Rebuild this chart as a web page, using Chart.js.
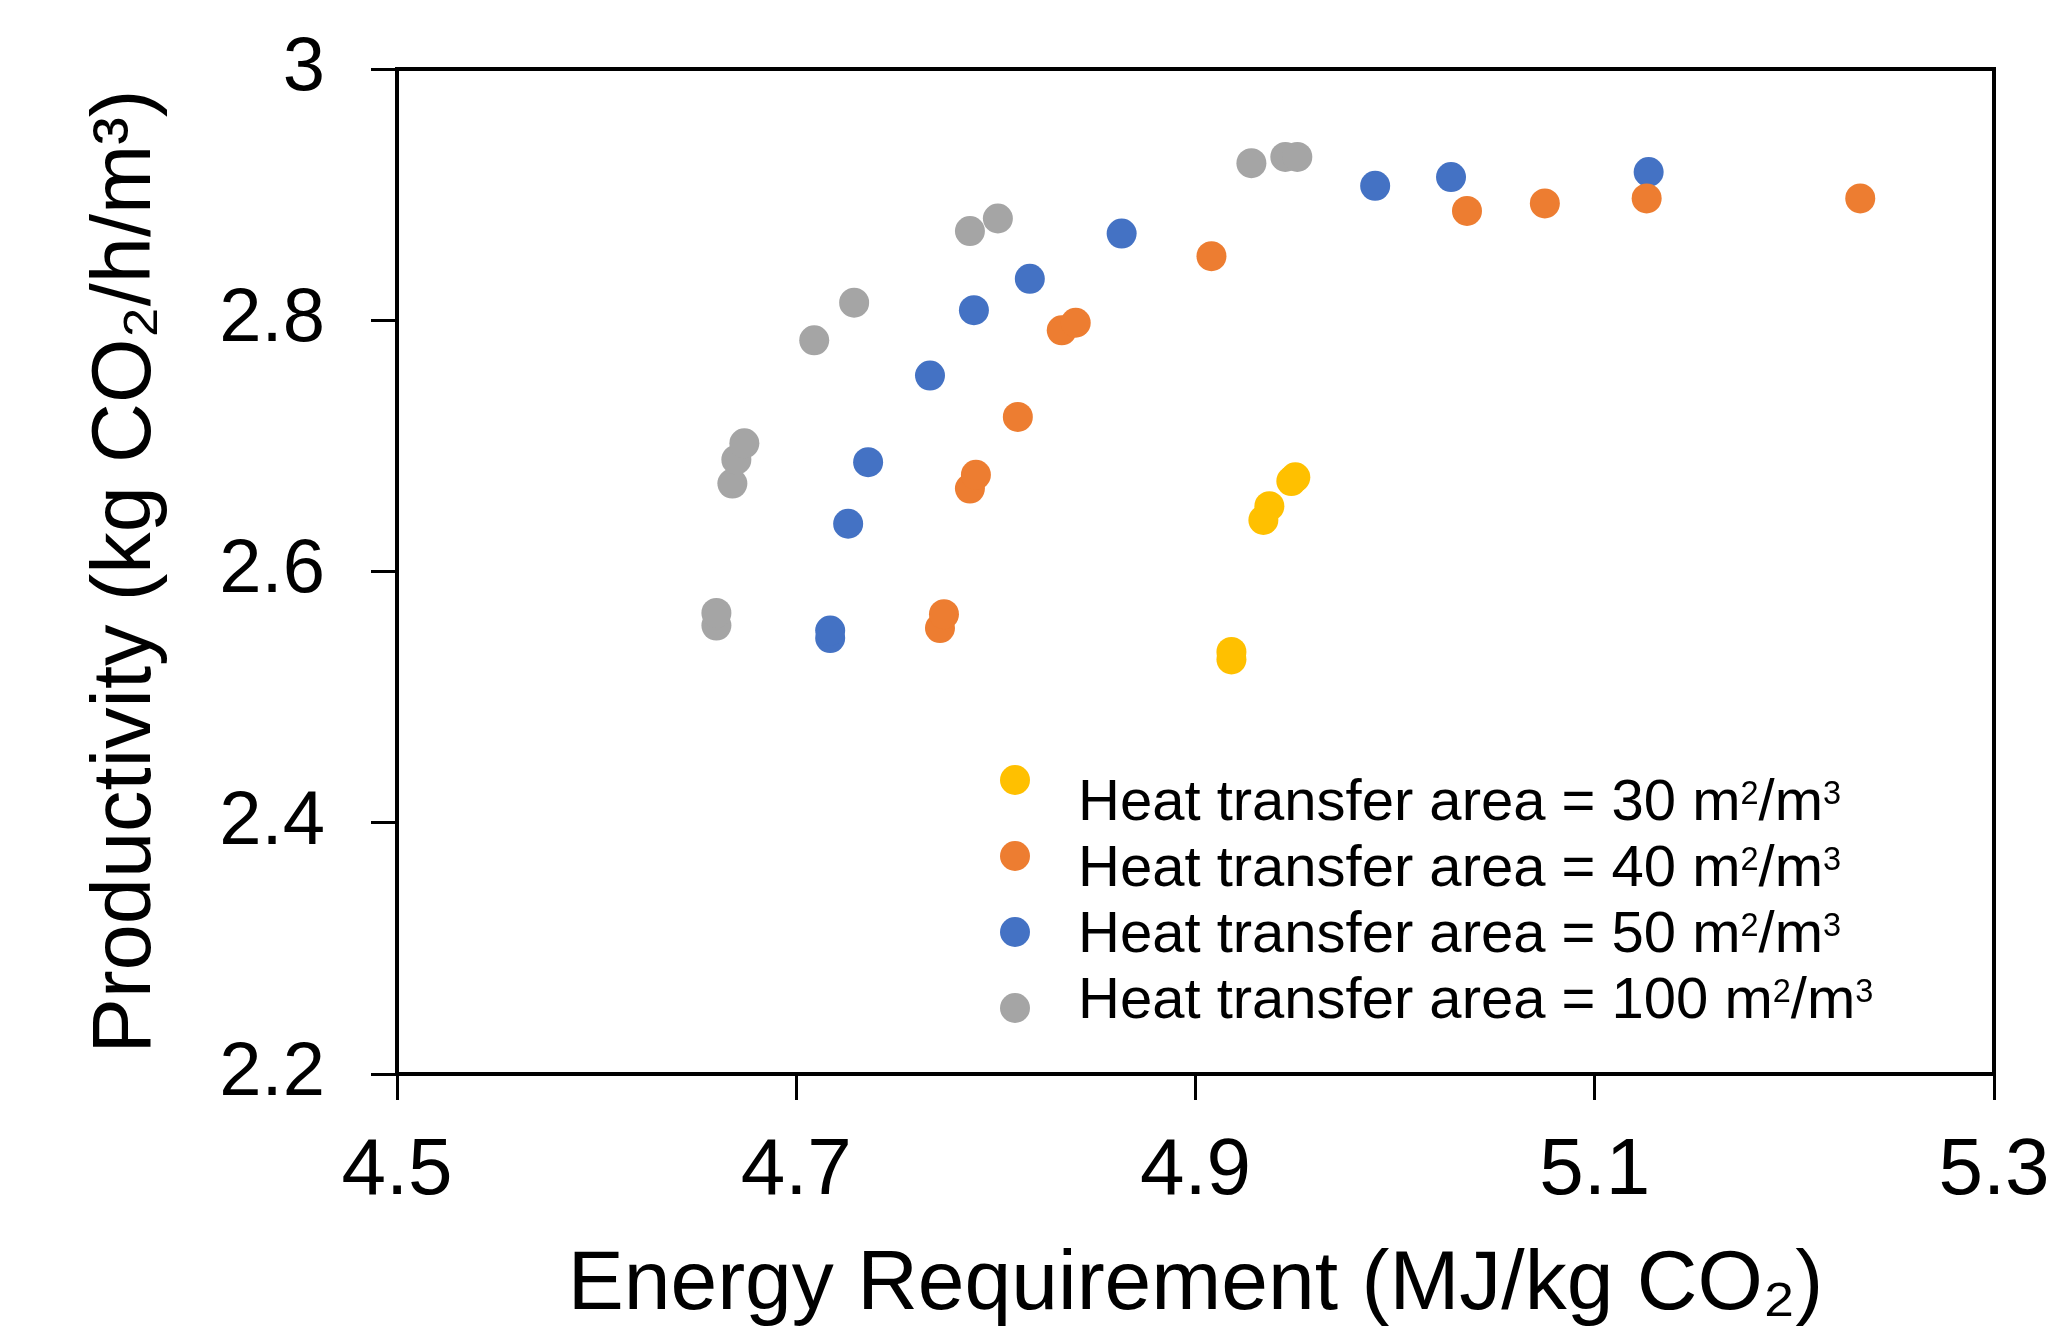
<!DOCTYPE html>
<html>
<head>
<meta charset="utf-8">
<title>Productivity vs Energy Requirement</title>
<script src="https://cdn.jsdelivr.net/npm/chart.js@4.4.1/dist/chart.umd.min.js"></script>
<style>
    body { margin: 0; background: #fff; }
    .wrap { position: relative; width: 2059px; height: 1332px; }
    .legend-marks { position: absolute; left: 1000px; top: 765px; }
    .legend-marks span { display: block; width: 30px; height: 30px; border-radius: 50%; margin-bottom: 46px; }
    .legend-text { position: absolute; left: 1078px; top: 767px; font-family: 'Liberation Sans', Arial, sans-serif; font-size: 58px; line-height: 66px; color: #000; white-space: nowrap; }
    .legend-text sup { font-size: 0.56em; vertical-align: 0.5em; line-height: 0; }
</style>
</head>
<body>
<div class="wrap">
    <canvas id="scatterChart" width="2059" height="1332"></canvas>
    <div class="legend-marks" id="legendMarks"></div>
    <div class="legend-text" id="legendText"></div>
</div>
<script>
// data
const areas = [30, 40, 50, 100];
const colors = ['#FFC000', '#ED7D31', '#4472C4', '#A5A5A5'];

const energy30 = [4.918, 4.918, 4.934, 4.937, 4.948, 4.950];
const prod30   = [2.536, 2.530, 2.641, 2.652, 2.672, 2.675];

const energy40 = [4.772, 4.774, 4.787, 4.790, 4.811, 4.833, 4.840, 4.908, 5.036, 5.075, 5.126, 5.233];
const prod40   = [2.555, 2.566, 2.666, 2.677, 2.723, 2.792, 2.798, 2.851, 2.887, 2.893, 2.897, 2.897];

const energy50 = [4.717, 4.717, 4.726, 4.736, 4.767, 4.789, 4.817, 4.863, 4.990, 5.028, 5.127];
const prod50   = [2.547, 2.553, 2.638, 2.687, 2.756, 2.808, 2.833, 2.869, 2.907, 2.914, 2.918];

const energy100 = [4.660, 4.660, 4.668, 4.670, 4.674, 4.709, 4.729, 4.787, 4.801, 4.928, 4.945, 4.951];
const prod100   = [2.557, 2.567, 2.670, 2.689, 2.702, 2.784, 2.814, 2.871, 2.881, 2.925, 2.930, 2.930];

const xTicks = [4.5, 4.7, 4.9, 5.1, 5.3];
const yTicks = [2.2, 2.4, 2.6, 2.8, 3];

const energyData = [energy30, energy40, energy50, energy100];
const prodData = [prod30, prod40, prod50, prod100];

const fontFamily = "'Liberation Sans', Arial, sans-serif";

const datasets = areas.map((a, i) => ({
    label: 'Heat transfer area = ' + a + ' m²/m³',
    data: energyData[i].map((x, j) => ({ x: x, y: prodData[i][j] })),
    backgroundColor: colors[i],
    borderWidth: 0,
    pointRadius: 15,
    pointHoverRadius: 15
}));

// top + right frame of the plot
const frameBox = {
    id: 'frameBox',
    beforeDatasetsDraw(chart) {
        const { ctx, chartArea } = chart;
        ctx.save();
        ctx.strokeStyle = '#000';
        ctx.lineWidth = 4;
        ctx.beginPath();
        ctx.moveTo(chartArea.left, chartArea.top);
        ctx.lineTo(chartArea.right, chartArea.top);
        ctx.lineTo(chartArea.right, chartArea.bottom);
        ctx.stroke();
        ctx.restore();
    }
};

const fmt = (v) => String(Number(v.toFixed(1)));

const ctx = document.getElementById('scatterChart').getContext('2d');
new Chart(ctx, {
    type: 'scatter',
    data: { datasets: datasets },
    plugins: [frameBox],
    options: {
        responsive: false,
        animation: false,
        devicePixelRatio: 1,
        layout: { padding: { top: 69, right: 65, bottom: 0, left: 0 } },
        plugins: {
            legend: { display: false },
            tooltip: { enabled: false }
        },
        scales: {
            x: {
                type: 'linear',
                min: xTicks[0],
                max: xTicks[xTicks.length - 1],
                afterBuildTicks: (scale) => { scale.ticks = xTicks.map(v => ({ value: v })); },
                afterFit: (scale) => {
                    scale.height = 1332 - 1074;
                    scale.paddingLeft = 0;
                    scale.paddingRight = 0;
                },
                ticks: {
                    color: '#000',
                    font: { family: fontFamily, size: 80 },
                    padding: 24,
                    maxRotation: 0,
                    callback: (v) => fmt(v)
                },
                grid: { drawOnChartArea: false, drawTicks: true, tickLength: 26, color: '#000', lineWidth: 3 },
                border: { display: true, color: '#000', width: 4 },
                title: {
                    display: true,
                    text: 'Energy Requirement (MJ/kg CO₂)',
                    color: '#000',
                    font: { family: fontFamily, size: 84, lineHeight: 1.1 },
                    padding: { top: 0, bottom: 0 }
                }
            },
            y: {
                type: 'linear',
                min: yTicks[0],
                max: yTicks[yTicks.length - 1],
                afterBuildTicks: (scale) => { scale.ticks = yTicks.map(v => ({ value: v })); },
                afterFit: (scale) => {
                    scale.width = 397;
                    scale.paddingTop = 0;
                    scale.paddingBottom = 0;
                },
                ticks: {
                    color: '#000',
                    font: { family: fontFamily, size: 76 },
                    padding: 46,
                    callback: (v) => fmt(v)
                },
                grid: { drawOnChartArea: false, drawTicks: true, tickLength: 26, color: '#000', lineWidth: 3 },
                border: { display: true, color: '#000', width: 4 },
                title: {
                    display: true,
                    text: 'Productivity (kg CO₂/h/m³)',
                    color: '#000',
                    font: { family: fontFamily, size: 83, lineHeight: 1.2 },
                    padding: { top: 77, bottom: 0 }
                }
            }
        }
    }
});

// legend: markers and labels stacked like the original
const marks = document.getElementById('legendMarks');
const texts = document.getElementById('legendText');
areas.forEach((a, i) => {
    const dot = document.createElement('span');
    dot.style.background = colors[i];
    marks.appendChild(dot);
    const line = document.createElement('div');
    line.innerHTML = 'Heat transfer area = ' + a + ' m<sup>2</sup>/m<sup>3</sup>';
    texts.appendChild(line);
});
</script>
</body>
</html>
